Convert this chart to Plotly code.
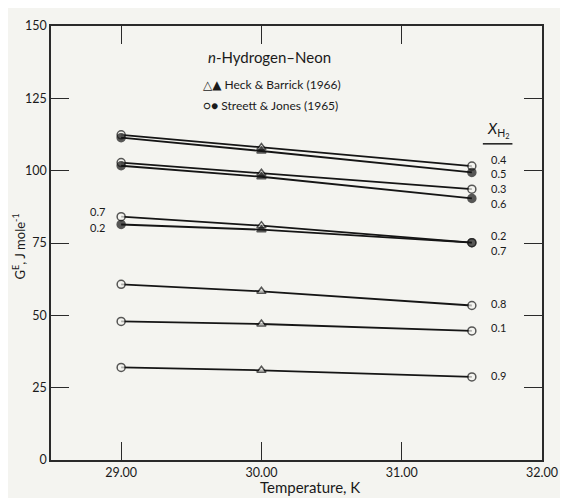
import plotly.graph_objects as go

# Data
temps = [29.0, 30.0, 31.5]
x_h2 = ["0.4", "0.5", "0.3", "0.6", "0.7", "0.2", "0.8", "0.1", "0.9"]
g_excess = {
    "0.4": [112.4, 108.0, 101.6],
    "0.5": [111.4, 106.8, 99.4],
    "0.3": [102.8, 99.1, 93.6],
    "0.6": [101.7, 97.9, 90.4],
    "0.7": [84.1, 81.0, 75.1],
    "0.2": [81.4, 79.6, 75.1],
    "0.8": [60.7, 58.3, 53.4],
    "0.1": [47.9, 47.0, 44.6],
    "0.9": [32.0, 31.0, 28.7],
}
filled = {"0.5", "0.6", "0.2"}
point_source = ["circle", "triangle-up", "circle"]  # Streett & Jones / Heck & Barrick / Streett & Jones

right_labels = ["0.4", "0.5", "0.3", "0.6", "0.2", "0.7", "0.8", "0.1", "0.9"]
right_label_y = [104.0, 98.9, 93.9, 88.8, 77.6, 72.4, 54.0, 45.9, 29.2]
left_labels = ["0.7", "0.2"]
left_label_y = [85.9, 80.2]

x_ticks = [29, 30, 31, 32]
x_ticklabels = ["29.00", "30.00", "31.00", "32.00"]
y_ticks = [0, 25, 50, 75, 100, 125, 150]

FONT = "Lato, DejaVu Sans, sans-serif"
BG = "#f4f4f0"

fig = go.Figure()

order = [k for k in x_h2 if k not in filled] + [k for k in x_h2 if k in filled]
for k in order:
    is_filled = k in filled
    fig.add_trace(go.Scatter(
        x=temps, y=g_excess[k], mode="lines+markers",
        line=dict(color="#151515", width=1.8),
        marker=dict(symbol=point_source, size=[8, 8, 8],
                    color="#151515" if is_filled else BG,
                    line=dict(color="#151515", width=1.5)),
        showlegend=False, hoverinfo="skip", name=k))

annotations = []
for lab, yv in zip(right_labels, right_label_y):
    annotations.append(dict(x=31.62, y=yv, xref="x", yref="y", text=lab, showarrow=False,
                            xanchor="left", yanchor="middle",
                            font=dict(family=FONT, size=11, color="#1a1a1a")))
for lab, yv in zip(left_labels, left_label_y):
    annotations.append(dict(x=28.9, y=yv, xref="x", yref="y", text=lab, showarrow=False,
                            xanchor="right", yanchor="middle",
                            font=dict(family=FONT, size=11, color="#1a1a1a")))

# Title and legend text inside the plot
annotations.append(dict(x=(208 - 51) / 498, y=(460 - 50) / 442, xref="paper", yref="paper",
                        text="<i>n</i>-Hydrogen\u2013Neon", showarrow=False, xanchor="left",
                        yanchor="middle", font=dict(family=FONT, size=15, color="#1a1a1a")))
annotations.append(dict(x=(203 - 51) / 498, y=(460 - 78) / 442, xref="paper", yref="paper",
                        text="\u25b3\u25b2 Heck & Barrick (1966)", showarrow=False, xanchor="left",
                        yanchor="middle", font=dict(family=FONT, size=12, color="#1a1a1a")))
annotations.append(dict(x=(203 - 51) / 498, y=(460 - 99) / 442, xref="paper", yref="paper",
                        text="\u25cb\u25cf Streett & Jones (1965)", showarrow=False, xanchor="left",
                        yanchor="middle", font=dict(family=FONT, size=12, color="#1a1a1a")))
annotations.append(dict(x=(504 - 51) / 498, y=(460 - 124) / 442, xref="paper", yref="paper",
                        text="<i>X</i><sub>H<sub>2</sub></sub>", showarrow=False, xanchor="center",
                        yanchor="middle", font=dict(family=FONT, size=15, color="#1a1a1a")))
# Axis titles
annotations.append(dict(x=(19 - 51) / 498, y=(460 - 242) / 442, xref="paper", yref="paper",
                        text="G<sup>E</sup>, J mole<sup>-1</sup>", showarrow=False, textangle=-90,
                        xanchor="center", yanchor="middle",
                        font=dict(family=FONT, size=13, color="#1a1a1a")))
annotations.append(dict(x=(314 - 51) / 498, y=(460 - 487) / 442, xref="paper", yref="paper",
                        text="Temperature, K", showarrow=False, xanchor="center", yanchor="middle",
                        font=dict(family=FONT, size=15, color="#1a1a1a")))

shapes = [dict(type="line", xref="paper", yref="paper",
               x0=(489 - 51) / 498, x1=(519 - 51) / 498,
               y0=(460 - 138) / 442, y1=(460 - 138) / 442,
               line=dict(color="#1a1a1a", width=1.5))]

axis_common = dict(showgrid=False, zeroline=False, showline=True, linecolor="#2a2a2a",
                   linewidth=1.5, mirror="ticks", ticks="inside", ticklen=18, tickwidth=1.3,
                   tickcolor="#2a2a2a", tickfont=dict(family=FONT, size=12.5, color="#1a1a1a"))

# The page body has an 8px default margin, so the figure is sized 8px smaller.
fig.update_layout(
    width=560, height=490,
    margin=dict(l=43, r=19, t=10, b=38),
    paper_bgcolor=BG, plot_bgcolor=BG,
    xaxis=dict(range=[28.5, 32.0], tickvals=x_ticks, ticktext=x_ticklabels, **axis_common),
    yaxis=dict(range=[0, 150], tickvals=y_ticks, **axis_common),
    annotations=annotations, shapes=shapes,
)

fig.write_html("out.html")
